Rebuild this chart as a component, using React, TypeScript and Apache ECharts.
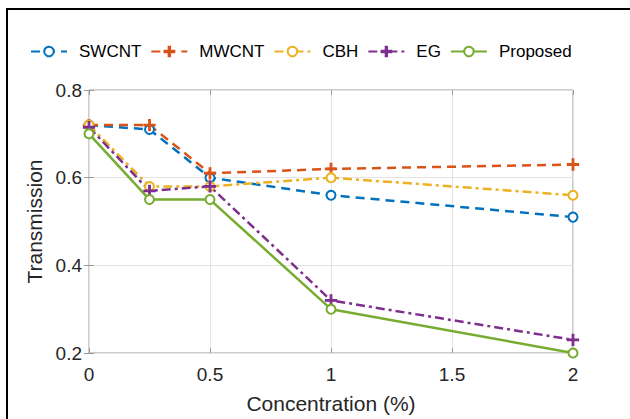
import React, { useEffect, useRef } from "react";
import * as echarts from "echarts";

const xValues = [0, 0.25, 0.5, 1, 2];
const swcnt = [0.72, 0.71, 0.6, 0.56, 0.51];
const mwcnt = [0.72, 0.72, 0.61, 0.62, 0.63];
const cbh = [0.72, 0.58, 0.58, 0.6, 0.56];
const eg = [0.715, 0.57, 0.58, 0.32, 0.23];
const proposed = [0.7, 0.55, 0.55, 0.3, 0.2];

const seriesNames = ["SWCNT", "MWCNT", "CBH", "EG", "Proposed"];
const xTicks = { min: 0, max: 2, interval: 0.5 };
const yTicks = { min: 0.2, max: 0.8, interval: 0.2 };

const PLUS = "path://M4.3,0h1.4v4.3h4.3v1.4h-4.3v4.3h-1.4v-4.3h-4.3v-1.4h4.3z";
const FONT = "Liberation Sans, Arial, sans-serif";
const TXT = "#262626";

export default function App() {
  const ref = useRef<HTMLDivElement>(null);
  useEffect(() => {
    if (!ref.current) return;
    const chart = echarts.init(ref.current, undefined, { renderer: "svg" });
    const mk = (name: string, vals: number[], color: string, dash: any, symbol: string) => ({
      name,
      type: "line",
      data: xValues.map((x, i) => [x, vals[i]]),
      symbol,
      symbolSize: symbol === "emptyCircle" ? 9 : 11,
      clip: false,
      lineStyle: { color, width: 2.5, type: dash },
      itemStyle: { color, borderColor: color, borderWidth: 1.3 },
      emphasis: { disabled: true },
    });
    chart.setOption({
      animation: false,
      backgroundColor: "#ffffff",
      textStyle: { fontFamily: FONT },
      graphic: [
        {
          type: "rect",
          shape: { x: 7, y: 9, width: 700, height: 500 },
          style: { fill: "none", stroke: "#000", lineWidth: 2 },
          silent: true,
        },
      ],
      legend: {
        data: seriesNames,
        left: 30,
        top: 43,
        padding: 0,
        itemWidth: 36,
        itemHeight: 12,
        itemGap: 9,
        textStyle: { fontSize: 17, color: "#000", fontFamily: FONT, padding: [0, 0, 0, 7] },
      },
      grid: {
        left: 89,
        top: 90,
        right: 630 - 573,
        bottom: 419 - 358,
        show: true,
        borderColor: "#9a9a9a",
        borderWidth: 1,
        containLabel: false,
      },
      xAxis: [
        {
          type: "value",
          ...xTicks,
          name: "Concentration (%)",
          nameLocation: "middle",
          nameGap: 40,
          nameTextStyle: { fontSize: 21, color: TXT, fontFamily: FONT },
          axisLine: { show: false },
          axisTick: { show: true, inside: true, length: 5, lineStyle: { color: "#9a9a9a" } },
          axisLabel: { fontSize: 19, color: TXT, margin: 12, fontFamily: FONT },
          splitLine: { show: true, lineStyle: { color: "#e3e3e3", width: 1 } },
        },
        {
          type: "value",
          ...xTicks,
          position: "top",
          axisLine: { show: false },
          axisTick: { show: true, inside: true, length: 5, lineStyle: { color: "#9a9a9a" } },
          axisLabel: { show: false },
          splitLine: { show: false },
        },
      ],
      yAxis: [
        {
          type: "value",
          ...yTicks,
          name: "Transmission",
          nameLocation: "middle",
          nameGap: 41,
          nameTextStyle: { fontSize: 21, color: TXT, fontFamily: FONT },
          axisLine: { show: false },
          axisTick: { show: true, inside: true, length: 5, lineStyle: { color: "#9a9a9a" } },
          axisLabel: { fontSize: 19, color: TXT, margin: 7, fontFamily: FONT },
          splitLine: { show: true, lineStyle: { color: "#e3e3e3", width: 1 } },
        },
        {
          type: "value",
          ...yTicks,
          position: "right",
          axisLine: { show: false },
          axisTick: { show: true, inside: true, length: 5, lineStyle: { color: "#9a9a9a" } },
          axisLabel: { show: false },
          splitLine: { show: false },
        },
      ],
      series: [
        mk("SWCNT", swcnt, "#0072BD", [9, 6], "emptyCircle"),
        mk("MWCNT", mwcnt, "#D95319", [9, 6], PLUS),
        mk("CBH", cbh, "#EDB120", [9, 4, 3, 4], "emptyCircle"),
        mk("EG", eg, "#7E2F8E", [9, 4, 3, 4], PLUS),
        mk("Proposed", proposed, "#77AC30", "solid", "emptyCircle"),
      ],
    });
    return () => chart.dispose();
  }, []);
  return (
    <div
      ref={ref}
      style={{ position: "absolute", left: 0, top: 0, width: 630, height: 419 }}
    />
  );
}
